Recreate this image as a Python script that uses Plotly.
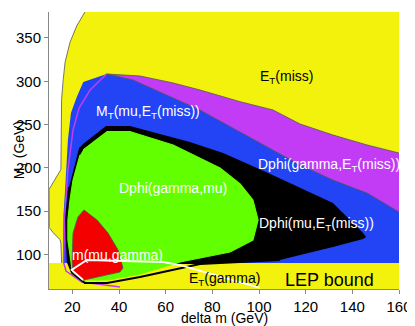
import plotly.graph_objects as go

# Region outlines (delta m in GeV, M1 in GeV)
yellow_x = [10, 160, 160, 25.4, 21.9, 19.0, 16.9, 16.1, 15.4, 15.1, 10.0, 10.1, 11.8, 14.7, 15.1, 15.4, 10]
yellow_y = [60, 60, 380, 380, 364, 345, 322, 302, 279, 198, 175, 131, 125, 117, 113, 90, 90]

magenta_top_x = [34.7, 49.0, 63.2, 74.7, 91.9, 106.0, 117.6, 131.7, 146.3, 160]
magenta_top_y = [308.4, 306.1, 298.0, 289.9, 276.4, 266.8, 250.6, 237.9, 226.4, 217.1]

magenta_line_x = [34.7, 27.6, 22.9, 20.3, 18.1, 16.9, 16.2, 17.3, 24.1, 40.4]
magenta_line_y = [308.4, 289.9, 269.1, 243.7, 197.5, 151.3, 91.2, 80.8, 68.1, 62.3]

blue_top_x = [34.7, 46.0, 74.7, 117.6, 131.7, 146.3, 160]
blue_top_y = [308.4, 301.5, 266.8, 203.3, 185.9, 170.9, 149.0]
blue_left_x = [16.0, 16.2, 16.9, 18.1, 19.4, 21.9, 24.7]
blue_left_y = [90, 145.5, 174.4, 232.1, 263.3, 281.8, 299.1]

black_x = [22.9, 24.6, 34.4, 44.7, 70.4, 84.6, 103.0, 117.6, 131.7, 144.6, 145.9, 144.6, 131.7,
           117.6, 109.0, 74.7, 49.0, 19.9, 18.1, 17.3, 18.6]
black_y = [222.9, 227.5, 248.3, 248.3, 229.8, 217.1, 195.2, 176.7, 159.4, 124.7, 120.1, 117.8, 108.5,
           99.3, 93.5, 88.9, 88.9, 82.0, 91.2, 139.7, 177.8]
black_line_x = [18.6, 17.3, 18.1, 19.9, 25.4, 34.9, 49.0, 74.7, 109.0]
black_line_y = [177.8, 139.7, 91.2, 78.5, 66.9, 66.9, 73.9, 88.9, 93.5]

green_x = [24.6, 34.9, 44.7, 63.2, 83.3, 91.9, 97.4, 99.6, 97.4, 87.6, 66.2, 49.0, 34.9, 25.4,
           19.9, 18.1, 18.1, 19.0, 20.3, 23.3]
green_y = [220.6, 241.7, 241.7, 226.4, 199.8, 181.3, 162.8, 139.7, 116.6, 102.7, 91.2, 77.3, 70.4, 70.4,
           82.0, 116.6, 139.7, 162.8, 185.9, 214.8]

red_x = [25.0, 30.6, 35.3, 39.6, 41.7, 40.4, 25.0, 20.3, 19.9, 20.3, 22.4, 25.0]
red_y = [151.3, 139.7, 124.7, 105.1, 84.3, 79.6, 70.4, 78.5, 93.5, 124.7, 143.2, 151.3]

white_x = [24.6, 19.7, 26.2, 58.9, 66.2, 100.4]
white_y = [70.4, 82.0, 93.5, 91.2, 87.7, 61.2]

labels = ["E<sub>T</sub>(miss)", "M<sub>T</sub>(mu,E<sub>T</sub>(miss))",
          "Dphi(gamma,E<sub>T</sub>(miss))", "Dphi(gamma,mu)",
          "Dphi(mu,E<sub>T</sub>(miss))", "m(mu,gamma)", "E<sub>T</sub>(gamma)", "LEP bound"]
label_x = [111.8, 52.6, 130.2, 63.1, 124.6, 39.5, 85.4, 130.0]
label_y = [305.0, 264.5, 203.5, 176.7, 135.5, 99.3, 72.0, 70.4]
label_col = ["black", "white", "white", "white", "white", "white", "black", "black"]
label_size = [14, 14, 14, 14, 14, 14, 14, 18]

YEL = "#f2f20c"
MAG = "#c23cf5"
BLU = "#2244f5"
GRN = "#62ff00"
RED = "#f50000"
EDGE = "#555555"

fig = go.Figure()

def fill(x, y, col, lw=0, lc=None):
    fig.add_trace(go.Scatter(x=x, y=y, fill="toself", fillcolor=col, mode="lines",
                             line=dict(width=lw, color=lc or col), hoverinfo="skip"))

def line(x, y, col, w):
    fig.add_trace(go.Scatter(x=x, y=y, mode="lines", line=dict(color=col, width=w), hoverinfo="skip"))

fill(yellow_x, yellow_y, YEL)
line(yellow_x[3:16], yellow_y[3:16], EDGE, 0.8)

fill(magenta_top_x + [160, 16.2] + magenta_line_x[6::-1], magenta_top_y + [90, 90] + magenta_line_y[6::-1], MAG)
fill(blue_left_x + blue_top_x + [160], blue_left_y + blue_top_y + [90], BLU)
line(magenta_line_x, magenta_line_y, MAG, 1.5)
line(magenta_top_x, magenta_top_y, EDGE, 0.8)
line(blue_top_x, blue_top_y, EDGE, 0.8)

fill(black_x, black_y, "black")
line(black_line_x, black_line_y, "black", 2)
fill(green_x, green_y, GRN, 1.2, GRN)
fill(red_x, red_y, RED, 0.8, EDGE)
line(white_x, white_y, "white", 1.8)

for t, x, y, c, s in zip(labels, label_x, label_y, label_col, label_size):
    fig.add_annotation(x=x, y=y, text=t, showarrow=False, xanchor="center", yanchor="middle",
                       font=dict(color=c, size=s))

fig.add_annotation(text="M<sub>1</sub> (GeV)", xref="paper", yref="paper", x=-0.115, y=0.5,
                   textangle=-90, showarrow=False, font=dict(size=14))
fig.add_annotation(text="delta m (GeV)", xref="paper", yref="paper", x=0.5, y=-0.105,
                   yanchor="middle", showarrow=False, font=dict(size=14))

# page body has an 8px margin, so the figure is shrunk by 8px to fit the window
fig.update_layout(
    width=407, height=318,
    margin=dict(l=41, r=16, t=4, b=37),
    plot_bgcolor="white", paper_bgcolor="white",
    showlegend=False,
    font=dict(family="Liberation Sans, Arial, sans-serif", color="black"),
    xaxis=dict(range=[10, 160], tickvals=[20, 40, 60, 80, 100, 120, 140, 160], showgrid=False,
               zeroline=False, showline=True, linecolor="#888888", ticks="outside", ticklen=4,
               tickcolor="#888888", tickfont=dict(size=15)),
    yaxis=dict(range=[60, 380], tickvals=[100, 150, 200, 250, 300, 350], showgrid=False,
               zeroline=False, showline=True, linecolor="#888888", ticks="outside", ticklen=4,
               tickcolor="#888888", tickfont=dict(size=15)),
)

fig.write_html("out.html")
